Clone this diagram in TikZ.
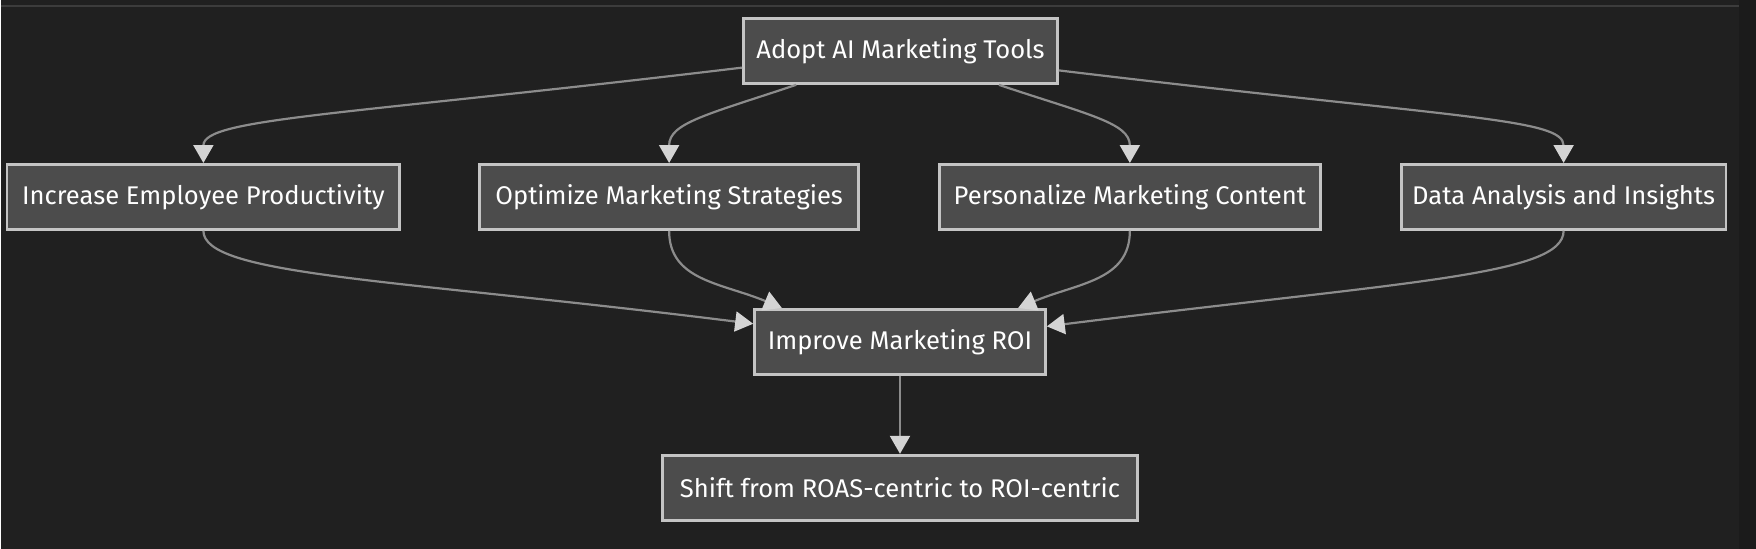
\documentclass[tikz,border=0pt]{standalone}
\usepackage{fontspec}
\setmainfont{Fira Sans}
\usepackage{xcolor}
\usepackage{tikz}
\usetikzlibrary{arrows.meta}

\definecolor{bgdark}{HTML}{202020}
\definecolor{bgstrip}{HTML}{1B1B1B}
\definecolor{topline}{HTML}{3C3C3C}
\definecolor{boxfill}{HTML}{4C4C4C}
\definecolor{boxline}{HTML}{C4C4C4}
\definecolor{edgeline}{HTML}{8C8C8C}
\definecolor{tipfill}{HTML}{D4D4D4}

\begin{document}
\begin{tikzpicture}[
  x=0.5pt, y=-0.5pt,
  font=\fontsize{12.8}{15}\selectfont,
  box/.style   = {rectangle, draw=boxline, line width=1.4pt, fill=boxfill,
    text=white, inner sep=0pt, minimum height=32.5pt, align=center},
  arrow/.style = {-{Triangle[length=9pt,width=10pt,color=tipfill]},
    line width=1.1pt, draw=edgeline},
]
  % canvas
  \fill[bgdark] (0,0) rectangle (1756,549);
  \fill[bgstrip] (1739,0) rectangle (1756,549);
  \draw[topline, line width=1pt] (0,6) -- (1739,6);
  \useasboundingbox (0,0) rectangle (1756,549);

  \node[box, minimum width=157pt]   (adopt) at (900,51)    {Adopt AI Marketing Tools};
  \node[box, minimum width=196.5pt] (prod)  at (202.5,197) {Increase Employee Productivity};
  \node[box, minimum width=189.5pt] (strat) at (668.5,197) {Optimize Marketing Strategies};
  \node[box, minimum width=190.5pt] (pers)  at (1129.5,197) {Personalize Marketing Content};
  \node[box, minimum width=162.5pt] (data)  at (1563.5,197) {Data Analysis and Insights};
  \node[box, minimum width=145.5pt] (roi)   at (899.5,342) {Improve Marketing ROI};
  \node[box, minimum width=237.5pt] (shift) at (899.5,488) {Shift from ROAS-centric to ROI-centric};

  % fan out
  \draw[arrow] (adopt.186.5) .. controls +(-400,48) and +(0,-45) .. (prod.north);
  \draw[arrow] (adopt.198.3) .. controls +(-90,30) and +(0,-40) .. (strat.north);
  \draw[arrow] (adopt.341.7) .. controls +(90,30) and +(0,-40) .. (pers.north);
  \draw[arrow] (adopt.353.5) .. controls +(400,48) and +(0,-45) .. (data.north);

  % fan in
  \draw[arrow] (prod.south) .. controls +(0,45) and +(-360,-45) .. (roi.173.6);
  \draw[arrow] (strat.south) .. controls +(0,50) and +(-60,-25) .. (roi.164);
  \draw[arrow] (pers.south) .. controls +(0,50) and +(60,-25) .. (roi.16);
  \draw[arrow] (data.south) .. controls +(0,45) and +(360,-45) .. (roi.6.4);

  \draw[arrow] (roi) -- (shift);
\end{tikzpicture}
\end{document}
